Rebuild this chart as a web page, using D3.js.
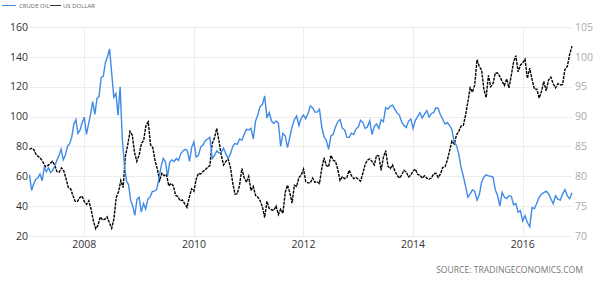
<!DOCTYPE html>
<html>
<head>
<meta charset="utf-8">
<script src="https://cdn.jsdelivr.net/npm/d3@7"></script>
<style>
  body { margin: 0; background: #fff; }
  svg { display: block; font-family: "Open Sans", sans-serif; }
</style>
</head>
<body>
<div id="chart"></div>
<script>
// readings spread evenly through each year (about twice a month), 2007 .. Nov 2016
const years = [2007, 2008, 2009, 2010, 2011, 2012, 2013, 2014, 2015, 2016];
const crudeOil = [
  [61.0, 50.5, 55.0, 58.0, 59.0, 61.5, 57.0, 65.9, 63.0, 65.7, 62.5, 64.0, 67.0, 70.7, 74.0, 78.2, 71.0, 74.0, 80.0, 81.7, 86.0, 94.5, 98.0, 88.7, 91.0, 96.0],
  [99.6, 88.0, 95.0, 101.8, 110.0, 101.5, 112.0, 113.5, 126.0, 127.0, 136.0, 140.0, 145.3, 128.9, 113.0, 115.5, 101.0, 120.0, 86.0, 67.8, 57.0, 54.4, 44.0, 40.0, 33.9, 44.6],
  [46.0, 36.0, 41.7, 38.0, 44.8, 46.0, 49.7, 50.0, 51.1, 58.0, 66.3, 72.0, 69.9, 60.0, 69.5, 71.0, 69.9, 72.0, 70.6, 75.0, 77.0, 78.0, 77.3, 70.0, 79.4],
  [83.0, 72.9, 74.0, 79.7, 81.0, 83.8, 85.0, 86.1, 72.0, 73.9, 77.0, 75.6, 76.0, 78.9, 75.0, 71.9, 75.0, 79.9, 82.0, 81.4, 85.0, 84.1, 88.0, 91.4],
  [91.0, 92.2, 85.0, 97.0, 101.0, 106.7, 108.0, 113.9, 99.0, 102.7, 97.0, 95.4, 97.0, 95.7, 80.0, 88.8, 87.0, 79.2, 86.0, 93.2, 98.0, 100.4, 94.0, 98.8],
  [101.0, 98.5, 102.0, 107.1, 106.0, 103.0, 103.0, 104.9, 93.0, 86.5, 84.0, 78.0, 87.0, 88.0, 93.0, 96.5, 98.0, 92.2, 91.0, 86.2, 86.0, 88.9, 88.0, 91.8],
  [93.0, 97.5, 96.0, 92.0, 93.0, 97.2, 88.0, 93.5, 95.0, 92.0, 98.0, 96.6, 106.0, 105.0, 107.0, 107.7, 105.0, 102.3, 101.0, 96.4, 94.0, 92.7, 97.0, 98.4],
  [92.0, 97.5, 100.0, 102.6, 99.0, 101.6, 104.0, 99.7, 102.0, 102.7, 106.0, 105.4, 101.0, 98.2, 95.0, 96.0, 94.0, 91.2, 83.0, 80.5, 75.0, 66.0, 60.0, 53.3],
  [46.0, 48.2, 51.0, 49.8, 44.0, 47.6, 56.0, 59.6, 61.0, 60.3, 60.0, 59.5, 51.0, 47.1, 40.0, 49.2, 46.0, 45.1, 47.0, 46.6, 41.0, 41.7, 36.0, 37.0],
  [30.0, 33.6, 29.0, 26.2, 39.0, 38.3, 42.0, 45.9, 48.0, 49.1, 50.0, 48.3, 45.0, 41.6, 47.0, 44.7, 44.0, 48.2, 51.0, 46.9, 45.0, 49.0]
];
const usDollar = [
  [84.5, 84.7, 84.4, 83.5, 83.3, 82.9, 82.3, 81.6, 81.8, 82.1, 82.5, 81.9, 80.8, 80.7, 81.4, 80.9, 79.6, 78.1, 77.9, 76.8, 75.8, 75.8, 76.4, 76.7],
  [75.8, 75.3, 75.9, 74.4, 72.5, 71.2, 71.8, 73.2, 72.7, 72.8, 73.2, 72.2, 71.3, 72.9, 76.5, 77.4, 79.3, 78.1, 83.4, 85.2, 87.5, 86.9, 84.0, 82.5],
  [83.5, 85.5, 86.0, 88.5, 89.1, 85.3, 84.8, 82.6, 81.2, 79.3, 80.5, 80.1, 80.3, 78.4, 78.8, 78.4, 76.8, 76.6, 75.9, 76.0, 75.4, 74.8, 76.5, 77.9],
  [77.5, 79.5, 80.5, 80.4, 80.8, 81.1, 81.5, 81.8, 85.5, 86.4, 88.0, 85.9, 83.5, 81.9, 82.5, 82.9, 81.5, 78.9, 77.0, 77.1, 78.5, 81.3, 79.8, 79.0],
  [80.0, 77.6, 78.3, 76.8, 76.5, 75.9, 74.9, 73.1, 75.8, 74.6, 74.4, 74.3, 75.0, 73.6, 74.5, 73.8, 77.3, 78.5, 77.3, 75.5, 78.5, 78.3, 79.8, 80.2],
  [81.2, 79.1, 78.9, 78.9, 79.7, 79.0, 79.1, 78.8, 81.3, 83.1, 81.8, 81.6, 83.5, 82.7, 82.5, 81.2, 79.3, 79.9, 79.6, 79.8, 81.0, 80.1, 79.6, 79.8],
  [79.5, 79.2, 80.5, 82.0, 82.7, 82.9, 82.5, 81.9, 83.5, 83.4, 81.0, 83.2, 84.3, 81.7, 81.3, 81.9, 80.9, 80.2, 79.7, 80.2, 81.0, 80.7, 79.9, 80.2],
  [80.9, 81.2, 80.3, 80.2, 79.7, 80.1, 79.7, 79.5, 79.7, 80.4, 80.5, 79.8, 80.4, 81.5, 81.6, 82.7, 84.3, 85.9, 85.4, 86.9, 87.5, 88.4, 88.5, 90.3],
  [92.5, 94.8, 94.1, 95.3, 99.5, 98.4, 97.8, 94.6, 93.2, 96.9, 95.0, 95.5, 97.3, 97.3, 96.7, 95.9, 95.2, 96.3, 94.8, 96.9, 99.1, 100.2, 97.5, 98.6],
  [99.0, 99.6, 96.4, 98.1, 96.2, 94.6, 94.6, 93.1, 94.2, 95.9, 94.3, 96.1, 96.6, 95.5, 94.8, 95.5, 95.3, 95.4, 97.9, 98.4, 100.4, 101.8]
];
const lastYearSpan = 0.9; // data stops late in November 2016
const leftTicks = [20, 40, 60, 80, 100, 120, 140, 160];
const rightTicks = [70, 75, 80, 85, 90, 95, 100, 105];
const yearTicks = [2008, 2010, 2012, 2014, 2016];

const W = 595, H = 282;
const svg = d3.select("#chart").append("svg").attr("width", W).attr("height", H);

const x = d3.scaleLinear().domain([2007, 2016.9]).range([29.5, 572]);
const yL = d3.scaleLinear().domain([20, 160]).range([236, 27]);
const yR = d3.scaleLinear().domain([70, 105]).range([236, 27]);

// flatten yearly rows into [date, value]
function toPoints(rows) {
  const pts = [];
  rows.forEach((row, k) => {
    const last = k === rows.length - 1;
    row.forEach((v, j) => {
      const t = last ? lastYearSpan * j / (row.length - 1) : j / row.length;
      pts.push([years[k] + t, v]);
    });
  });
  return pts;
}

// grid
svg.append("g").selectAll("line").data(leftTicks).join("line")
  .attr("x1", 30).attr("x2", 572)
  .attr("y1", d => Math.round(yL(d)) + 0.5).attr("y2", d => Math.round(yL(d)) + 0.5)
  .attr("stroke", "#ececec");
svg.append("g").selectAll("line").data(yearTicks).join("line")
  .attr("x1", d => Math.round(x(d)) + 0.5).attr("x2", d => Math.round(x(d)) + 0.5)
  .attr("y1", 27).attr("y2", 236)
  .attr("stroke", "#ececec");

// axis labels
svg.append("g").selectAll("text").data(leftTicks).join("text")
  .attr("x", 28).attr("y", d => yL(d)).attr("dy", "0.35em")
  .attr("text-anchor", "end").attr("font-size", 10.5).attr("fill", "#333")
  .text(d => d);
svg.append("g").selectAll("text").data(rightTicks).join("text")
  .attr("x", 575).attr("y", d => yR(d)).attr("dy", "0.35em")
  .attr("font-size", 10.5).attr("fill", "#aaa")
  .text(d => d);
svg.append("g").selectAll("text").data(yearTicks).join("text")
  .attr("x", d => x(d)).attr("y", 248)
  .attr("text-anchor", "middle").attr("font-size", 10.5).attr("fill", "#333")
  .text(d => d);

const lineOil = d3.line().x(d => x(d[0])).y(d => yL(d[1]));
const lineUsd = d3.line().x(d => x(d[0])).y(d => yR(d[1]));

svg.append("path").datum(toPoints(usDollar)).attr("d", lineUsd)
  .attr("fill", "none").attr("stroke", "#000").attr("stroke-width", 1.4)
  .attr("stroke-dasharray", "3,1");
svg.append("path").datum(toPoints(crudeOil)).attr("d", lineOil)
  .attr("fill", "none").attr("stroke", "#3f8be6").attr("stroke-width", 1.4);

// legend
const lg = svg.append("g").attr("font-size", 6).attr("fill", "#666");
lg.append("line").attr("x1", 2).attr("x2", 16).attr("y1", 5.5).attr("y2", 5.5).attr("stroke", "#3f8be6");
lg.append("text").attr("x", 19).attr("y", 7.5).text("CRUDE OIL");
lg.append("line").attr("x1", 50).attr("x2", 61).attr("y1", 5.5).attr("y2", 5.5).attr("stroke", "#333");
lg.append("text").attr("x", 63).attr("y", 7.5).text("US DOLLAR");

// source
svg.append("text").attr("x", 583).attr("y", 273).attr("text-anchor", "end")
  .attr("font-size", 8.6).attr("fill", "#777")
  .text("SOURCE: TRADINGECONOMICS.COM");
</script>
</body>
</html>
